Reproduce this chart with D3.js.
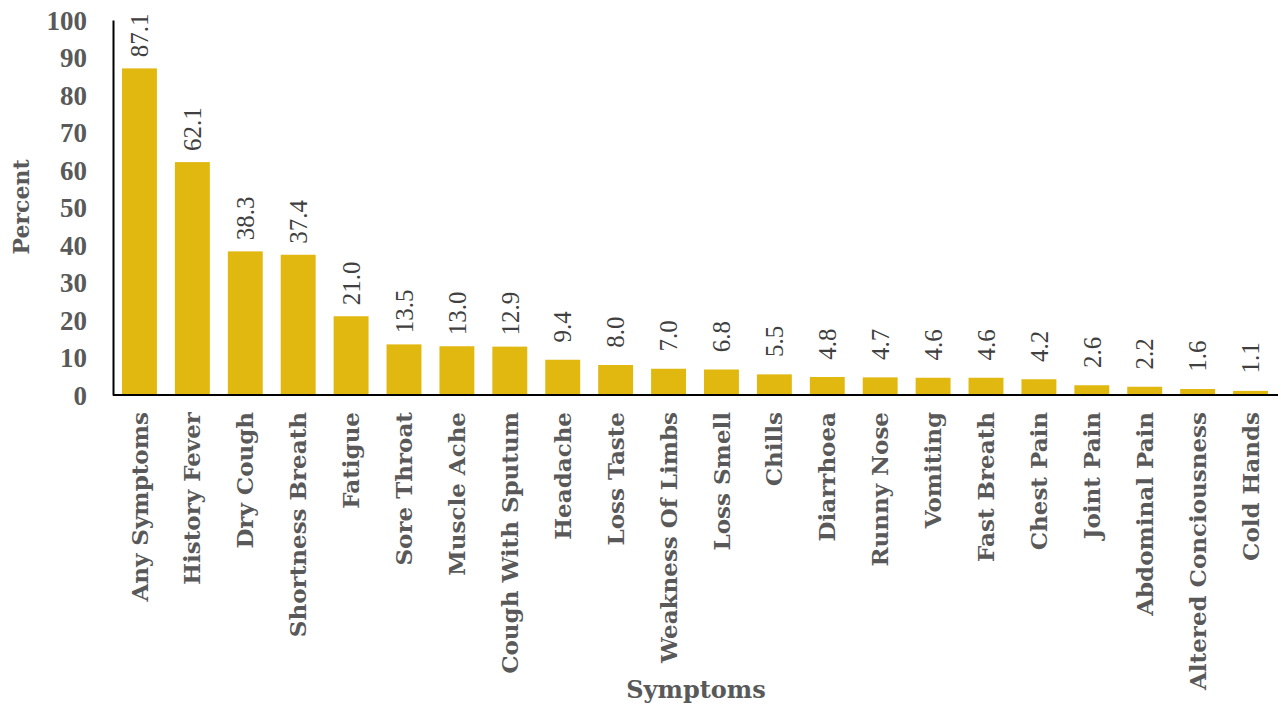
<!DOCTYPE html>
<html><head><meta charset="utf-8">
<script src="https://cdn.jsdelivr.net/npm/d3@7"></script>
<style>html,body{margin:0;padding:0;background:#fff;}</style>
</head><body>
<svg id="chart" width="1281" height="710"></svg>
<script>
const categories = ["Any Symptoms","History Fever","Dry Cough","Shortness Breath","Fatigue","Sore Throat","Muscle Ache","Cough With Sputum","Headache","Loss Taste","Weakness Of Limbs","Loss Smell","Chills","Diarrhoea","Runny Nose","Vomiting","Fast Breath","Chest Pain","Joint Pain","Abdominal Pain","Altered Conciousness","Cold Hands"];
const values = [87.1,62.1,38.3,37.4,21.0,13.5,13.0,12.9,9.4,8.0,7.0,6.8,5.5,4.8,4.7,4.6,4.6,4.2,2.6,2.2,1.6,1.1];
const yTicks = [0,10,20,30,40,50,60,70,80,90,100];

const svg = d3.select("#chart");
const mLeft = 113, mRight = 1277, mTop = 20, mBottom = 395;
const x = d3.scaleBand().domain(categories).range([mLeft, mRight]).paddingInner(0.34).paddingOuter(0.17);
const y = d3.scaleLinear().domain([0, 100]).range([mBottom, mTop]);
const data = categories.map((c, i) => ({c, v: values[i]}));

const barColor = "#E1B80F";
const gray = "#595959";

svg.selectAll("rect.bar").data(data).join("rect")
  .attr("class", "bar")
  .attr("x", d => x(d.c)).attr("width", x.bandwidth())
  .attr("y", d => y(d.v)).attr("height", d => y(0) - y(d.v))
  .attr("fill", barColor);

// y axis
const yAxis = svg.append("g").attr("transform", `translate(${mLeft},0)`)
  .call(d3.axisLeft(y).tickValues(yTicks).tickSize(0).tickPadding(26).tickFormat(d3.format("d")));
yAxis.select(".domain").attr("stroke", "#000").attr("stroke-width", 2);
yAxis.selectAll("text").attr("fill", gray).attr("font-family", "'Liberation Serif', serif")
  .attr("font-weight", "bold").attr("font-size", 27).attr("dy", "0.35em");

// x axis
const xAxis = svg.append("g").attr("transform", `translate(0,${mBottom})`)
  .call(d3.axisBottom(x).tickSize(0).tickPadding(0));
xAxis.select(".domain").attr("stroke", "#000").attr("stroke-width", 2)
  .attr("d", `M${mLeft},0H${mRight + 1}`);
xAxis.selectAll("text")
  .attr("fill", gray).attr("font-family", "'DejaVu Serif', serif").attr("font-weight", "bold")
  .attr("font-size", 23)
  .attr("text-anchor", "end")
  .attr("transform", "translate(0,17) rotate(-90)")
  .attr("x", 0).attr("y", 0).attr("dy", "0.35em");

// value labels
svg.selectAll("text.val").data(data).join("text")
  .attr("class", "val")
  .attr("transform", d => `translate(${x(d.c) + x.bandwidth() / 2},${y(d.v) - 33}) rotate(-90)`)
  .attr("text-anchor", "middle").attr("dy", "0.35em")
  .attr("font-family", "'Liberation Serif', serif").attr("font-size", 25)
  .attr("fill", "#404040")
  .text(d => d3.format(".1f")(d.v));

// axis titles
svg.append("text")
  .attr("transform", `translate(21,207) rotate(-90)`)
  .attr("text-anchor", "middle").attr("dy", "0.35em")
  .attr("font-family", "'DejaVu Serif', serif").attr("font-weight", "bold").attr("font-size", 22)
  .attr("fill", gray).text("Percent");
svg.append("text")
  .attr("x", 696).attr("y", 698)
  .attr("text-anchor", "middle")
  .attr("font-family", "'DejaVu Serif', serif").attr("font-weight", "bold").attr("font-size", 24)
  .attr("fill", gray).text("Symptoms");
</script>
</body></html>
